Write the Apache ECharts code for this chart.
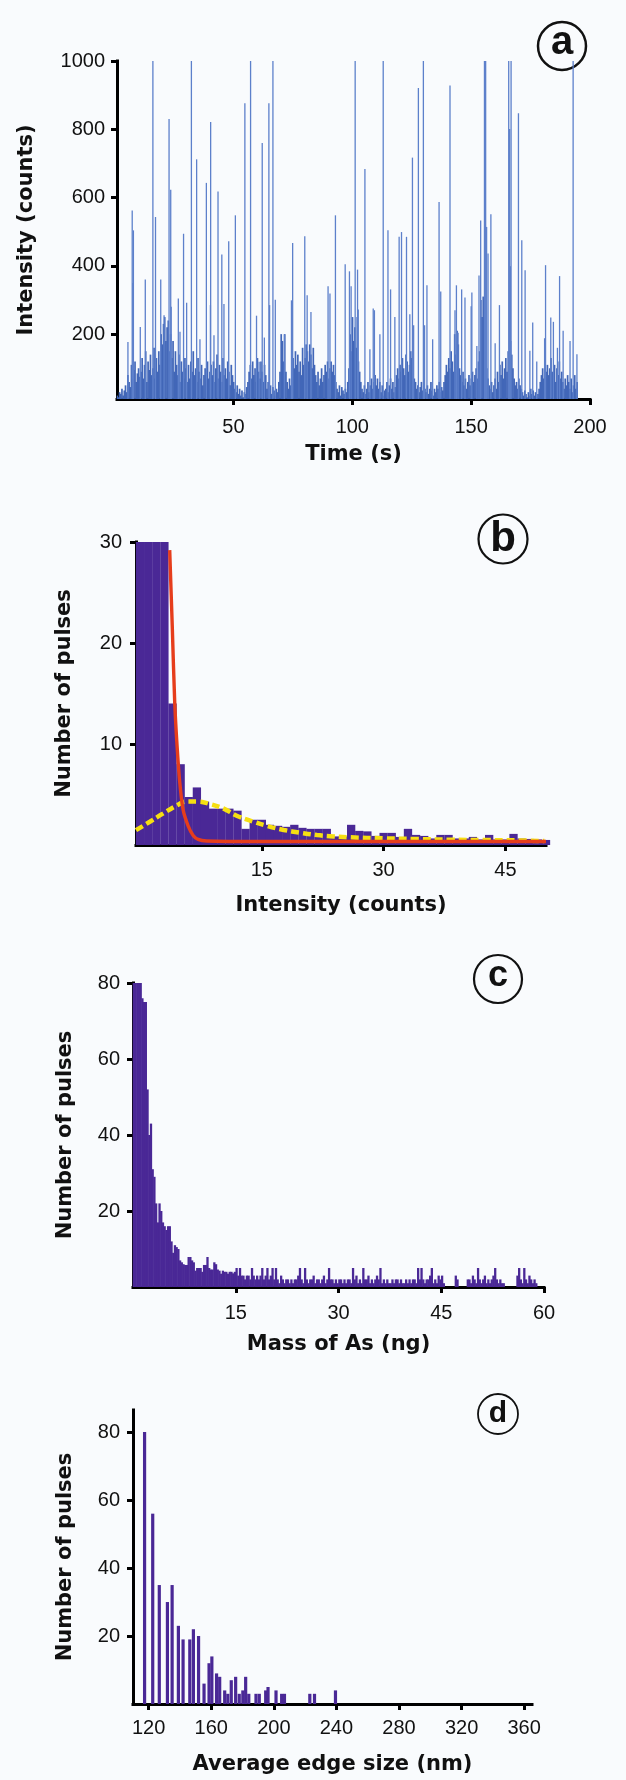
<!DOCTYPE html>
<html><head><meta charset="utf-8">
<script src="https://cdn.jsdelivr.net/npm/echarts@6.0.0/dist/echarts.min.js"></script>
<style>html,body{margin:0;padding:0;background:#f9fbfd;} #chart{width:626px;height:1780px;}</style>
</head><body><div id="chart"></div>
<script>
// ---------- Panel a: intensity vs time ----------
const timeBaseStart = 1, timeBaseStep = 0.5;
const intensityBase = [
 20,15,30,25,40,20,35,50,30,80,60,45,110,70,95,120,60,85,100,75,
 90,130,70,110,150,60,120,95,140,80,100,160,70,130,90,150,110,200,170,230,
 250,180,220,240,150,200,130,180,90,150,110,80,140,60,120,90,70,130,100,60,
 110,70,120,90,150,80,100,60,130,90,70,110,50,80,100,60,120,70,90,110,
 80,120,60,100,140,70,110,90,60,130,80,100,70,120,90,50,110,80,60,40,
 30,50,25,40,20,35,15,30,25,45,60,90,110,70,120,80,100,60,130,90,
 70,120,90,60,110,80,40,60,30,50,25,45,35,20,40,30,60,90,200,180,
 120,200,90,60,40,70,50,80,130,100,150,110,140,90,120,80,160,110,130,170,
 150,120,170,140,100,160,110,80,60,90,50,70,100,60,80,110,90,120,70,100,
 120,90,110,80,60,40,30,50,20,45,35,25,40,30,60,100,200,150,250,180,
 220,160,250,120,90,60,40,30,50,25,40,60,30,50,70,40,60,80,50,70,
 40,60,30,50,20,35,40,60,30,50,70,40,60,30,45,80,100,70,110,90,
 130,100,80,140,120,90,110,150,130,100,70,60,40,50,30,45,60,35,50,40,
 30,50,25,40,60,35,20,40,30,50,40,60,30,45,35,60,80,110,90,130,
 100,150,120,90,200,140,210,170,100,80,60,90,50,70,40,60,80,50,70,90,
 60,80,100,70,120,150,300,250,310,200,150,100,70,50,40,60,30,50,70,40,
 90,60,110,80,120,70,100,130,90,150,120,180,140,100,70,50,60,40,70,50,
 40,30,20,35,25,15,30,20,40,25,35,20,30,15,25,40,60,80,100,70,
 120,90,110,80,100,130,90,70,110,60,100,80,120,70,90,60,40,70,50,80,
 60,40,70,30,50,80,40,60
];
const spikes = [
 [5.6,177],[7.4,562],[7.7,350],[7.9,504],[10.8,221],[12.9,360],[16.1,1000],[17.2,543],[19.4,360],[20.8,255],
 [22.9,830],[23.6,623],[23.8,280],[26.8,304],[27.5,207],[29.0,494],[30.3,292],[32.3,1000],[34.5,712],[35.9,185],
 [38.6,643],[40.3,285],[40.4,821],[41.8,197],[43.5,618],[45.1,433],[46.0,288],[48.0,472],[50.8,548],[54.8,876],
 [57.2,1000],[59.7,254],[60.8,119],[62.1,760],[63.0,190],[64.9,876],[65.2,285],[66.6,1000],[67.6,301],[71.4,200],
 [74.4,299],[74.9,467],[80.0,487],[81.0,314],[82.6,265],[89.8,340],[90.6,319],[92.9,548],[97.0,405],[98.8,384],
 [99.5,340],[101.2,1000],[102.2,389],[102.5,272],[105.3,684],[107.4,156],[108.8,275],[109.3,270],[111.6,200],[113.0,1000],
 [115.0,504],[116.1,331],[117.9,250],[119.7,485],[120.7,499],[122.8,485],[124.2,258],[125.3,717],[125.8,226],[127.8,921],
 [129.9,1000],[130.4,226],[131.4,343],[133.8,185],[136.5,587],[137.2,325],[141.1,928],[143.2,270],[143.8,343],[144.5,204],
 [146.0,331],[147.4,307],[150.0,282],[150.3,322],[152.4,165],[153.3,372],[154.0,533],[155.6,1000],[156.1,1000],[156.5,514],
 [157.1,436],[158.3,551],[160.1,173],[161.9,285],[165.8,1000],[166.2,801],[166.5,399],[166.8,1000],[169.9,847],[171.3,475],
 [172.7,387],[174.7,151],[175.9,234],[177.6,120],[180.9,188],[181.3,402],[183.5,249],[184.6,236],[186.3,160],[187.2,370],
 [188.7,210],[191.6,180],[192.9,1000],[194.5,141]
];
const timeTicks = [50,100,150,200];
const intensityTicks = [200,400,600,800,1000];

// ---------- Panel b: histogram of intensity ----------
const intensityBins = [0,1,2,3,4,5,6,7,8,9,10,11,12,13,14,15,16,17,18,19,20,21,22,23,24,25,26,27,28,29,30,31,32,33,34,35,36,37,38,39,40,41,42,43,44,45,46,47,48,49,50];
const pulsesB = [30,30,30,30,14,8,4.75,5.7,4.3,3.6,3.6,3.6,3.4,1.6,2.5,2.5,2.0,1.9,1.8,2.0,1.7,1.6,1.6,1.6,0.85,0.85,2.0,1.4,1.35,0.9,1.2,1.2,0.8,1.6,1.0,0.9,0.65,1.0,1.0,0.65,0.65,0.8,0.55,1.0,0.55,0.55,1.1,0.65,0.6,0.55,0.5];
const redFitX = [3.65,3.98,4.27,4.56,4.89,5.3,5.92,6.54,7.16,8.2,15,30,50];
const redFitY = [29.2,21.3,14.1,9.8,6.2,3.5,1.9,0.95,0.55,0.4,0.35,0.35,0.35];
const yellowFitX = [-0.5,1.2,2.8,4.5,5.7,7.2,8.6,10.3,11.9,14,15.6,17.7,19.7,21.8,23.8,25.9,30,34.1,38.2,42.3,46.4,49.8];
const yellowFitY = [1.47,2.3,3.1,3.9,4.3,4.3,4.06,3.6,2.9,2.3,1.9,1.49,1.22,0.98,0.85,0.76,0.66,0.59,0.52,0.49,0.46,0.39];
const binTicksB = [15,30,45];
const pulseTicksB = [10,20,30];

// ---------- Panel c: histogram of mass ----------
const massBinStart = 0.125, massBinStep = 0.25;
const pulsesC = [
 80,80,80,80, 80,76,75,75, 52,40,43,31, 29,22,17,22, 20,17,16,15,
 16,16,12,9, 11,10.5,10,7, 6.5,6,5.8,5.8, 7.9,7.9,7,6.5, 4.3,5,5,5,
 4,5.8,5.8,7.9, 5,4.6,4.6,6.5, 6,4.6,4.3,3.5, 4.3,4,4,3.5, 4,4,3.6,4,
 5,3,5,3, 3,2,3,3, 2,5,3,2, 3,2,3,5, 2,3,5,2,
 3,5,2,5, 2,1,3,2, 1,2,2,1, 2,1,2,2, 3,5,2,1,
 5,2,1,2, 2,3,1,2, 2,1,2,3, 1,2,5,2, 2,1,2,1,
 2,2,1,2, 1,2,2,1, 5,2,3,1, 2,1,5,2, 2,3,1,2,
 1,2,3,2, 5,1,2,1, 2,1,1,2, 1,2,2,1, 2,1,1,2,
 1,2,1,2, 2,1,5,2, 5,2,1,2, 2,3,5,1, 2,1,3,2,
 3,1,0,0, 0,0,0,0, 3,2,0,0, 0,0,0,2, 2,1,3,2,
 1,5,2,1, 2,3,1,2, 1,2,3,5, 2,1,2,1, 1,0,0,0,
 0,0,0,0, 3,5,2,1, 5,2,1,3, 2,1,2,1
];
const massTicks = [15,30,45,60];
const pulseTicksC = [20,40,60,80];

// ---------- Panel d: histogram of edge size ----------
const edgeSize = [117.4,122.6,126.8,132,135,139,142,146.3,148.6,151.9,155.4,158.6,160.4,163.4,165.4,168.6,170.6,172.8,175.6,177.9,180.2,182,184,188.6,190.7,194.8,196.3,201.4,205,206.8,223,226,239.4];
const pulsesD = [80,56,35,30,35,23,19,19,22,20,6,12,14,9,8,4,3,7,8,3,4,8,3,3,3,4,5,4,3,3,3,3,4];
const edgeTicks = [120,160,200,240,280,320,360];
const pulseTicksD = [20,40,60,80];

// ---------- build ----------
const baseData = intensityBase.map((v,i)=>[timeBaseStart + i*timeBaseStep, v]);
const cData = pulsesC.map((v,i)=>[massBinStart + i*massBinStep, v]);
const bData = intensityBins.map((x,i)=>[x, pulsesB[i]]);
const dData = edgeSize.map((x,i)=>[x, pulsesD[i]]);
const redData = redFitX.map((x,i)=>[x, redFitY[i]]);
const yellowData = yellowFitX.map((x,i)=>[x, yellowFitY[i]]);

const TITLE = {fontFamily:'DejaVu Sans', fontWeight:'bold', fontSize:21, color:'#111'};
function axis(grid, min, max, ticks, name, nameGap, margin, extra){
  return Object.assign({
    type:'value', gridIndex:grid, min:min, max:max,
    name:name, nameLocation:'middle', nameGap:nameGap, nameTextStyle:TITLE,
    axisLine:{show:true, onZero:false, lineStyle:{color:'#000', width:3, cap:'square'}},
    axisTick:{show:true, inside:false, length:6, customValues:ticks, lineStyle:{color:'#000', width:3}},
    axisLabel:{show:true, customValues:ticks, margin:margin, fontFamily:'Liberation Sans', fontSize:20, color:'#111',
      formatter:function(v){return String(v);}},
    splitLine:{show:false}
  }, extra||{});
}
const purple = '#4a2896';
const option = {
  animation:false,
  backgroundColor:'#f9fbfd',
  grid:[
    {left:117, top:61, width:473, height:338},
    {left:136, top:542, width:410, height:303},
    {left:133, top:983, width:411, height:304},
    {left:133, top:1410, width:399, height:294}
  ],
  xAxis:[
    axis(0, 1, 200, timeTicks, 'Time (s)', 45, 18),
    axis(1, -0.5, 50, binTicksB, 'Intensity (counts)', 50, 15),
    axis(2, 0, 60, massTicks, 'Mass of As (ng)', 47, 16),
    axis(3, 110, 365, edgeTicks, 'Average edge size (nm)', 50, 14)
  ],
  yAxis:[
    axis(0, 10, 1000, intensityTicks, 'Intensity (counts)', 80, 12),
    axis(1, 0, 30, pulseTicksB, 'Number of pulses', 61, 14),
    axis(2, 0, 80, pulseTicksC, 'Number of pulses', 57, 13),
    axis(3, 0, 86.5, pulseTicksD, 'Number of pulses', 57, 13)
  ],
  series:[
    {type:'bar', xAxisIndex:0, yAxisIndex:0, data:baseData, barWidth:1.7, barGap:'-100%', clip:true, itemStyle:{color:'#4267b8'}, z:2},
    {type:'bar', xAxisIndex:0, yAxisIndex:0, data:spikes, barWidth:1.3, barGap:'-100%', clip:true, itemStyle:{color:'#5d80cb'}, z:3},
    {type:'bar', xAxisIndex:1, yAxisIndex:1, data:bData, barWidth:8.3, clip:true, itemStyle:{color:purple}},
    {type:'line', xAxisIndex:1, yAxisIndex:1, data:yellowData, smooth:0.4, showSymbol:false, symbol:'none', clip:true,
      lineStyle:{color:'#f6df12', width:4.5, type:[8,4]}, z:4},
    {type:'line', xAxisIndex:1, yAxisIndex:1, data:redData, smooth:0.3, showSymbol:false, symbol:'none', clip:true,
      lineStyle:{color:'#e63d1c', width:3.4}, z:5},
    {type:'bar', xAxisIndex:2, yAxisIndex:2, data:cData, barWidth:2.3, clip:true, itemStyle:{color:purple}},
    {type:'bar', xAxisIndex:3, yAxisIndex:3, data:dData, barWidth:3.2, clip:true, itemStyle:{color:purple}}
  ],
  graphic:[
    {type:'circle', shape:{cx:562, cy:46, r:24}, style:{fill:'none', stroke:'#111', lineWidth:2.5}},
    {type:'text', x:562, y:43, style:{text:'a', font:'bold 40px "Liberation Sans"', fill:'#111', align:'center', verticalAlign:'middle', textAlign:'center', textVerticalAlign:'middle'}},
    {type:'circle', shape:{cx:503, cy:539, r:24.5}, style:{fill:'none', stroke:'#111', lineWidth:2.2}},
    {type:'text', x:503, y:539, style:{text:'b', font:'bold 42px "Liberation Sans"', fill:'#111', align:'center', verticalAlign:'middle', textAlign:'center', textVerticalAlign:'middle'}},
    {type:'circle', shape:{cx:498, cy:979, r:24}, style:{fill:'none', stroke:'#111', lineWidth:2.2}},
    {type:'text', x:498, y:976, style:{text:'c', font:'bold 36px "Liberation Sans"', fill:'#111', align:'center', verticalAlign:'middle', textAlign:'center', textVerticalAlign:'middle'}},
    {type:'circle', shape:{cx:498, cy:1414, r:20}, style:{fill:'none', stroke:'#111', lineWidth:1.8}},
    {type:'text', x:498, y:1414, style:{text:'d', font:'bold 30px "Liberation Sans"', fill:'#111', align:'center', verticalAlign:'middle', textAlign:'center', textVerticalAlign:'middle'}}
  ]
};
const chart = echarts.init(document.getElementById('chart'), null, {renderer:'canvas', width:626, height:1780});
chart.setOption(option);
</script></body></html>
